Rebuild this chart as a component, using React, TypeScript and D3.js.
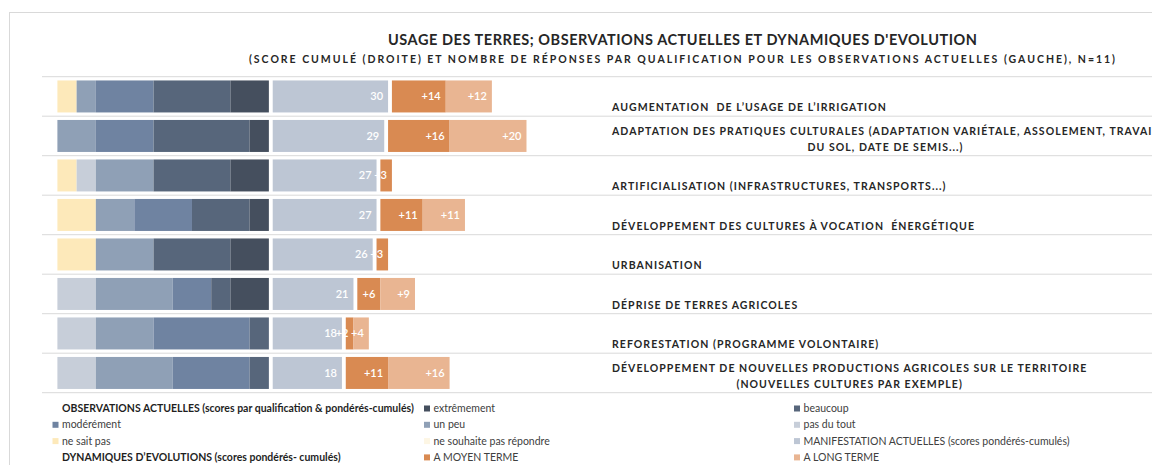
import React, { useEffect, useRef } from 'react';
import * as d3 from 'd3';

// ---------- DATA ----------
const categories: string[][] = [
  ['AUGMENTATION  DE L’USAGE DE L’IRRIGATION'],
  ['ADAPTATION DES PRATIQUES CULTURALES (ADAPTATION VARIÉTALE, ASSOLEMENT, TRAVAIL', 'DU SOL, DATE DE SEMIS...)'],
  ['ARTIFICIALISATION (INFRASTRUCTURES, TRANSPORTS...)'],
  ['DÉVELOPPEMENT DES CULTURES À VOCATION  ÉNERGÉTIQUE'],
  ['URBANISATION'],
  ['DÉPRISE DE TERRES AGRICOLES'],
  ['REFORESTATION (PROGRAMME VOLONTAIRE)'],
  ['DÉVELOPPEMENT DE NOUVELLES PRODUCTIONS AGRICOLES SUR LE TERRITOIRE', '(NOUVELLES CULTURES PAR EXEMPLE)'],
];

// Observations actuelles: number of answers per qualification (N=11)
const neSouhaitePas = [0, 0, 0, 0, 0, 0, 0, 0];
const neSaitPas = [1, 0, 1, 2, 2, 0, 0, 0];
const pasDuTout = [0, 0, 1, 0, 0, 2, 2, 2];
const unPeu = [1, 2, 3, 2, 3, 4, 3, 4];
const moderement = [3, 3, 0, 3, 0, 2, 5, 4];
const beaucoup = [4, 5, 4, 3, 4, 1, 1, 1];
const extremement = [2, 1, 2, 1, 2, 2, 0, 0];

// Scores pondérés-cumulés
const manifestation = [30, 29, 27, 27, 26, 21, 18, 18];
const moyenTerme = [14, 16, 3, 11, 3, 6, 2, 11];
const longTerme = [12, 20, 0, 11, 0, 9, 4, 16];

const countSeries = [
  { key: 'ne souhaite pas répondre', values: neSouhaitePas, color: '#fdf6e4' },
  { key: 'ne sait pas', values: neSaitPas, color: '#fde9ba' },
  { key: 'pas du tout', values: pasDuTout, color: '#c7ced9' },
  { key: 'un peu', values: unPeu, color: '#8fa0b6' },
  { key: 'modérément', values: moderement, color: '#6f83a1' },
  { key: 'beaucoup', values: beaucoup, color: '#57667b' },
  { key: 'extrêmement', values: extremement, color: '#454f5e' },
];
const COLOR_MANIF = '#bdc6d4';
const COLOR_MOYEN = '#d98a52';
const COLOR_LONG = '#e9b592';

const legendItems = [
  { label: 'OBSERVATIONS ACTUELLES (scores par qualification & pondérés-cumulés)', color: null, bold: true },
  { label: 'extrêmement', color: '#454f5e', bold: false },
  { label: 'beaucoup', color: '#57667b', bold: false },
  { label: 'modérément', color: '#6f83a1', bold: false },
  { label: 'un peu', color: '#8fa0b6', bold: false },
  { label: 'pas du tout', color: '#c7ced9', bold: false },
  { label: 'ne sait pas', color: '#fde9ba', bold: false },
  { label: 'ne souhaite pas répondre', color: '#fdf6e4', bold: false },
  { label: 'MANIFESTATION ACTUELLES (scores pondérés-cumulés)', color: COLOR_MANIF, bold: false },
  { label: 'DYNAMIQUES D’EVOLUTIONS (scores pondérés- cumulés)', color: null, bold: true },
  { label: 'A MOYEN TERME', color: COLOR_MOYEN, bold: false },
  { label: 'A LONG TERME', color: COLOR_LONG, bold: false },
];

const TITLE = 'USAGE DES TERRES; OBSERVATIONS ACTUELLES ET DYNAMIQUES D\'EVOLUTION';
const SUBTITLE = '(SCORE CUMULÉ (DROITE) ET NOMBRE DE RÉPONSES PAR QUALIFICATION POUR LES OBSERVATIONS ACTUELLES (GAUCHE), N=11)';

const W = 1152;
const H = 465;
const FONT = "Lato, 'Open Sans', sans-serif";

export default function App() {
  const ref = useRef<SVGSVGElement>(null);

  useEffect(() => {
    const svg = d3.select(ref.current);
    svg.selectAll('*').remove();

    // frame
    svg.append('rect')
      .attr('x', 9.5).attr('y', 12.5).attr('width', 1300).attr('height', 600)
      .attr('fill', 'none').attr('stroke', '#d9d9d9');

    // titles
    svg.append('text')
      .attr('x', 682.5).attr('y', 45)
      .attr('text-anchor', 'middle')
      .attr('font-family', FONT).attr('font-weight', 700).attr('font-size', 14.5)
      .attr('fill', '#262626')
      .attr('textLength', 589).attr('lengthAdjust', 'spacing')
      .text(TITLE);
    svg.append('text')
      .attr('x', 682).attr('y', 63)
      .attr('text-anchor', 'middle')
      .attr('font-family', FONT).attr('font-weight', 700).attr('font-size', 10.5)
      .attr('fill', '#262626')
      .attr('textLength', 866).attr('lengthAdjust', 'spacing')
      .text(SUBTITLE);

    const idx = d3.range(categories.length);
    const y = d3.scaleBand<number>()
      .domain(idx)
      .range([76.7, 392.7])
      .paddingInner(0.19)
      .paddingOuter(0.095);
    const rowStep = y.step();

    // one common axis in "score units"; answers count as 5 units each
    const PER_ANSWER = 5;
    const GAP = 1;
    const x = d3.scaleLinear().domain([0, 100]).range([57.4, 57.4 + 384.5]);

    // gridlines
    const gridYs = d3.range(categories.length + 1).map((i) => 76.7 + i * rowStep);
    svg.append('g').selectAll('line').data(gridYs).join('line')
      .attr('x1', 42).attr('x2', W + 10)
      .attr('y1', (d) => d).attr('y2', (d) => d)
      .attr('stroke', '#d9d9d9').attr('stroke-width', 1);

    const gBars = svg.append('g');
    const gLabels = svg.append('g');

    idx.forEach((i) => {
      const top = y(i)!;
      const bh = y.bandwidth();
      const cy = top + bh / 2;
      // left stacked counts
      let acc = 0;
      countSeries.forEach((s) => {
        const v = s.values[i];
        if (v > 0) {
          gBars.append('rect')
            .attr('x', x(acc)).attr('y', top)
            .attr('width', x(acc + v * PER_ANSWER) - x(acc)).attr('height', bh)
            .attr('fill', s.color);
        }
        acc += v * PER_ANSWER;
      });
      // manifestation
      const m0 = acc + GAP;
      const m1 = m0 + manifestation[i];
      gBars.append('rect')
        .attr('x', x(m0)).attr('y', top)
        .attr('width', x(m1) - x(m0)).attr('height', bh)
        .attr('fill', COLOR_MANIF);
      gLabels.append('text')
        .attr('x', x(m1) - 5).attr('y', cy).attr('dy', '0.35em')
        .attr('text-anchor', 'end')
        .attr('font-family', FONT).attr('font-size', 11).attr('font-weight', 600)
        .attr('fill', '#ffffff')
        .text(String(manifestation[i]));
      // dynamiques
      const d0 = m1 + GAP;
      const d1 = d0 + moyenTerme[i];
      const d2 = d1 + longTerme[i];
      const segs = [
        { a: d0, b: d1, v: moyenTerme[i], c: COLOR_MOYEN },
        { a: d1, b: d2, v: longTerme[i], c: COLOR_LONG },
      ];
      segs.forEach((s) => {
        if (s.v <= 0) return;
        gBars.append('rect')
          .attr('x', x(s.a)).attr('y', top)
          .attr('width', x(s.b) - x(s.a)).attr('height', bh)
          .attr('fill', s.c);
        gLabels.append('text')
          .attr('x', x(s.b) - 5).attr('y', cy).attr('dy', '0.35em')
          .attr('text-anchor', 'end')
          .attr('font-family', FONT).attr('font-size', 11).attr('font-weight', 600)
          .attr('fill', '#ffffff')
          .text('+' + s.v);
      });

      // category label
      const lines = categories[i];
      const lineGap = 16;
      const lastY = cy + 11;
      const firstY = lastY - (lines.length - 1) * lineGap;
      const t1 = svg.append('text')
        .attr('x', 612).attr('y', firstY).attr('dy', '0.35em')
        .attr('font-family', FONT).attr('font-weight', 700).attr('font-size', 10.5)
        .attr('letter-spacing', 1.05)
        .attr('fill', '#262626')
        .style('white-space', 'pre')
        .text(lines[0]);
      if (lines.length > 1) {
        const w = (t1.node() as SVGTextElement).getComputedTextLength();
        lines.slice(1).forEach((ln, k) => {
          svg.append('text')
            .attr('x', 612 + w / 2).attr('y', firstY + (k + 1) * lineGap).attr('dy', '0.35em')
            .attr('text-anchor', 'middle')
            .attr('font-family', FONT).attr('font-weight', 700).attr('font-size', 10.5)
            .attr('letter-spacing', 1.05)
            .attr('fill', '#262626')
            .style('white-space', 'pre')
            .text(ln);
        });
      }
    });

    // legend
    const colX = [52.5, 424, 794];
    const rowY = [408.5, 424.8, 441.1, 457.4];
    const gLeg = svg.append('g');
    legendItems.forEach((it, k) => {
      const cx = colX[k % 3];
      const ry = rowY[Math.floor(k / 3)];
      if (it.color) {
        gLeg.append('rect')
          .attr('x', cx).attr('y', ry - 3).attr('width', 6).attr('height', 6)
          .attr('fill', it.color);
      }
      gLeg.append('text')
        .attr('x', cx + 9.5).attr('y', ry).attr('dy', '0.35em')
        .attr('font-family', FONT).attr('font-size', 10.5)
        .attr('font-weight', it.bold ? 700 : 400)
        .attr('fill', it.bold ? '#1f1f1f' : '#404040')
        .text(it.label);
    });
  }, []);

  return (
    <svg
      ref={ref}
      width={W}
      height={H}
      style={{ position: 'absolute', left: 0, top: 0, background: '#ffffff' }}
    />
  );
}
